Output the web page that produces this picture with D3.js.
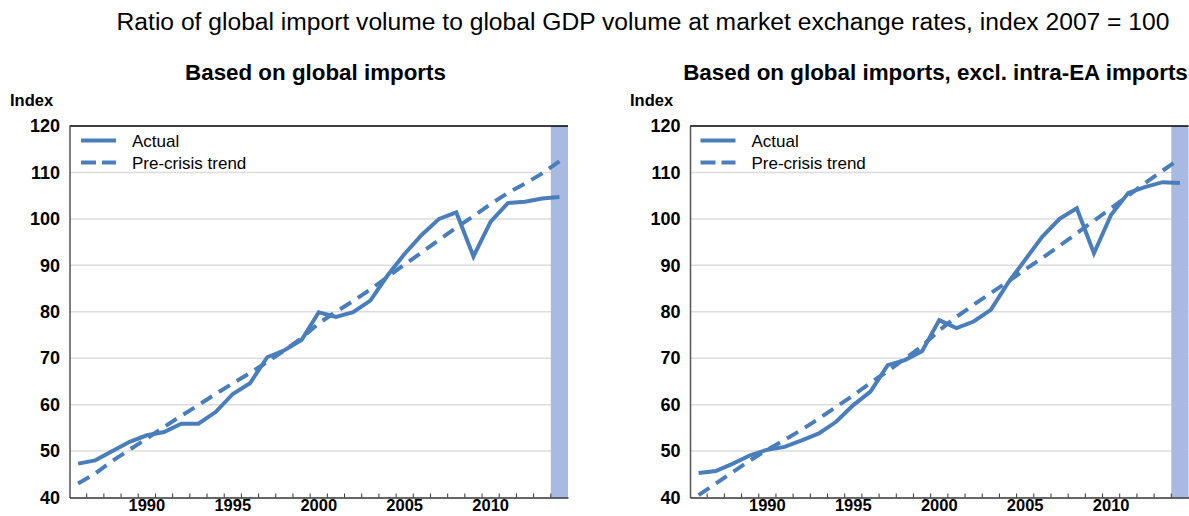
<!DOCTYPE html>
<html>
<head>
<meta charset="utf-8">
<script src="https://cdn.jsdelivr.net/npm/d3@7"></script>
<style>
  html, body { margin: 0; padding: 0; background: #fff; }
  svg { display: block; font-family: "Liberation Sans", Arial, sans-serif; }
</style>
</head>
<body>
<svg id="chart" width="1189" height="516"></svg>
<script>
// ---------------- DATA ----------------
const years = [1986,1987,1988,1989,1990,1991,1992,1993,1994,1995,1996,1997,1998,1999,2000,
               2001,2002,2003,2004,2005,2006,2007,2008,2009,2010,2011,2012,2013,2014];

const actualAll = [47.3,48.0,50.0,52.0,53.4,54.1,55.9,55.9,58.4,62.3,64.6,70.2,71.7,73.9,79.9,
                   78.9,79.9,82.4,87.8,92.5,96.6,100.0,101.4,91.9,99.4,103.4,103.7,104.4,104.7];
const trendAll  = [43.0,45.2,47.9,50.3,52.7,55.2,57.6,59.9,62.3,64.6,66.8,69.2,71.7,74.3,77.5,
                   80.0,82.3,84.8,87.5,90.2,92.8,95.5,98.1,100.6,103.2,105.6,107.6,109.8,112.4];

const actualExEA = [45.3,45.7,47.3,49.1,50.3,50.9,52.3,53.8,56.3,59.9,62.8,68.5,69.6,71.5,78.2,
                    76.5,77.9,80.4,86.2,91.2,96.2,100.0,102.3,92.6,100.9,105.6,106.9,107.9,107.7];
const trendExEA  = [40.5,43.0,45.5,48.0,50.3,52.4,54.6,57.0,59.5,62.0,64.7,67.2,69.9,72.6,76.0,
                    78.9,81.5,84.0,86.5,89.1,91.6,94.2,96.9,99.6,102.3,105.0,107.8,110.4,113.0];

const yTicks = [40,50,60,70,80,90,100,110,120];
const xTickLabels = [1990,1995,2000,2005,2010];
const shadedYears = [2014];

const mainTitle = "Ratio of global import volume to global GDP volume at market exchange rates, index 2007 = 100";
const panelTitles = ["Based on global imports", "Based on global imports, excl. intra-EA imports"];
const legendLabels = ["Actual", "Pre-crisis trend"];
const yUnit = "Index";

// ---------------- STYLE ----------------
const lineColor = "#4a7ebb";
const bandColor = "#a8b9e2";
const gridColor = "#dcdcdc";

const svg = d3.select("#chart");

// main title
const mt = svg.append("text")
  .attr("x", 643).attr("y", 30)
  .attr("text-anchor", "middle")
  .attr("font-size", 20)
  .attr("fill", "#000")
  .text(mainTitle);
(function fit(node, target) {
  const w = node.getComputedTextLength();
  const fs = parseFloat(node.getAttribute("font-size"));
  node.setAttribute("font-size", (fs * target / w).toFixed(2));
})(mt.node(), 1053);

const panels = [
  { x0: 69.5, x1: 568, title: panelTitles[0], titleCx: 315.5, titleW: 261, actual: actualAll, trend: trendAll, unitX: 10, legX: 81 },
  { x0: 690, x1: 1188.5, title: panelTitles[1], titleCx: 935.5, titleW: 505, actual: actualExEA, trend: trendExEA, unitX: 630, legX: 700.5 }
];

const yTop = 126, yBottom = 497.5;
const y = d3.scaleLinear().domain([40, 120]).range([yBottom, yTop]);

panels.forEach(p => {
  const g = svg.append("g");
  const x = d3.scaleBand().domain(years).range([p.x0, p.x1]).padding(0);
  const cx = d => x(d) + x.bandwidth() / 2;

  // panel title
  const t = g.append("text")
    .attr("x", p.titleCx).attr("y", 80)
    .attr("text-anchor", "middle")
    .attr("font-size", 22).attr("font-weight", "bold")
    .text(p.title);
  const w = t.node().getComputedTextLength();
  t.attr("font-size", (22 * p.titleW / w).toFixed(2));

  // unit label
  g.append("text")
    .attr("x", p.unitX).attr("y", 106)
    .attr("font-size", 16.5).attr("font-weight", "bold")
    .text(yUnit);

  // gridlines
  g.selectAll(".grid").data(yTicks.filter(v => v > 40 && v < 120)).enter()
    .append("line")
    .attr("x1", p.x0).attr("x2", p.x1)
    .attr("y1", d => y(d)).attr("y2", d => y(d))
    .attr("stroke", gridColor).attr("stroke-width", 1.5);

  // shaded band
  g.selectAll(".band").data(shadedYears).enter()
    .append("rect")
    .attr("x", d => x(d)).attr("width", x.bandwidth())
    .attr("y", yTop).attr("height", yBottom - yTop)
    .attr("fill", bandColor);

  // top border
  g.append("line")
    .attr("x1", p.x0).attr("x2", p.x1)
    .attr("y1", yTop).attr("y2", yTop)
    .attr("stroke", "#000").attr("stroke-width", 1.5);

  // y axis
  const yAxis = d3.axisLeft(y).tickValues(yTicks).tickSize(0).tickPadding(9.5);
  const ya = g.append("g").attr("transform", `translate(${p.x0},0)`).call(yAxis);
  ya.select(".domain").attr("stroke", "#555").attr("stroke-width", 1.5);
  ya.selectAll("text").attr("font-size", 18).attr("font-weight", "bold")
    .attr("fill", "#000").attr("font-family", "'Liberation Sans', Arial, sans-serif");

  // x axis (labels centred in bands)
  const xAxis = d3.axisBottom(x).tickValues(xTickLabels).tickSize(0).tickPadding(2);
  const xa = g.append("g").attr("transform", `translate(0,${yBottom})`).call(xAxis);
  xa.select(".domain").attr("stroke", "#333").attr("stroke-width", 1.5);
  xa.selectAll("text").attr("font-size", 16.5).attr("font-weight", "bold")
    .attr("fill", "#000").attr("font-family", "'Liberation Sans', Arial, sans-serif");

  // boundary tick marks (inside, upward)
  g.selectAll(".btick").data(years.slice(1)).enter()
    .append("line")
    .attr("x1", d => x(d)).attr("x2", d => x(d))
    .attr("y1", yBottom).attr("y2", yBottom - 4)
    .attr("stroke", "#333").attr("stroke-width", 1);

  // lines
  const line = d3.line().x((d, i) => cx(years[i])).y(d => y(d));
  g.append("path").datum(p.trend)
    .attr("d", line).attr("fill", "none")
    .attr("stroke", lineColor).attr("stroke-width", 4)
    .attr("stroke-dasharray", "13,8");
  g.append("path").datum(p.actual)
    .attr("d", line).attr("fill", "none")
    .attr("stroke", lineColor).attr("stroke-width", 4)
    .attr("stroke-linejoin", "miter");

  // legend
  const leg = g.append("g");
  legendLabels.forEach((lab, i) => {
    const ly = 140.5 + i * 22;
    leg.append("line")
      .attr("x1", p.legX).attr("x2", p.legX + 35)
      .attr("y1", ly).attr("y2", ly)
      .attr("stroke", lineColor).attr("stroke-width", 4)
      .attr("stroke-dasharray", i === 1 ? "15,6" : null);
    leg.append("text")
      .attr("x", p.legX + 51).attr("y", ly + 6)
      .attr("font-size", 17)
      .text(lab);
  });
});
</script>
</body>
</html>
